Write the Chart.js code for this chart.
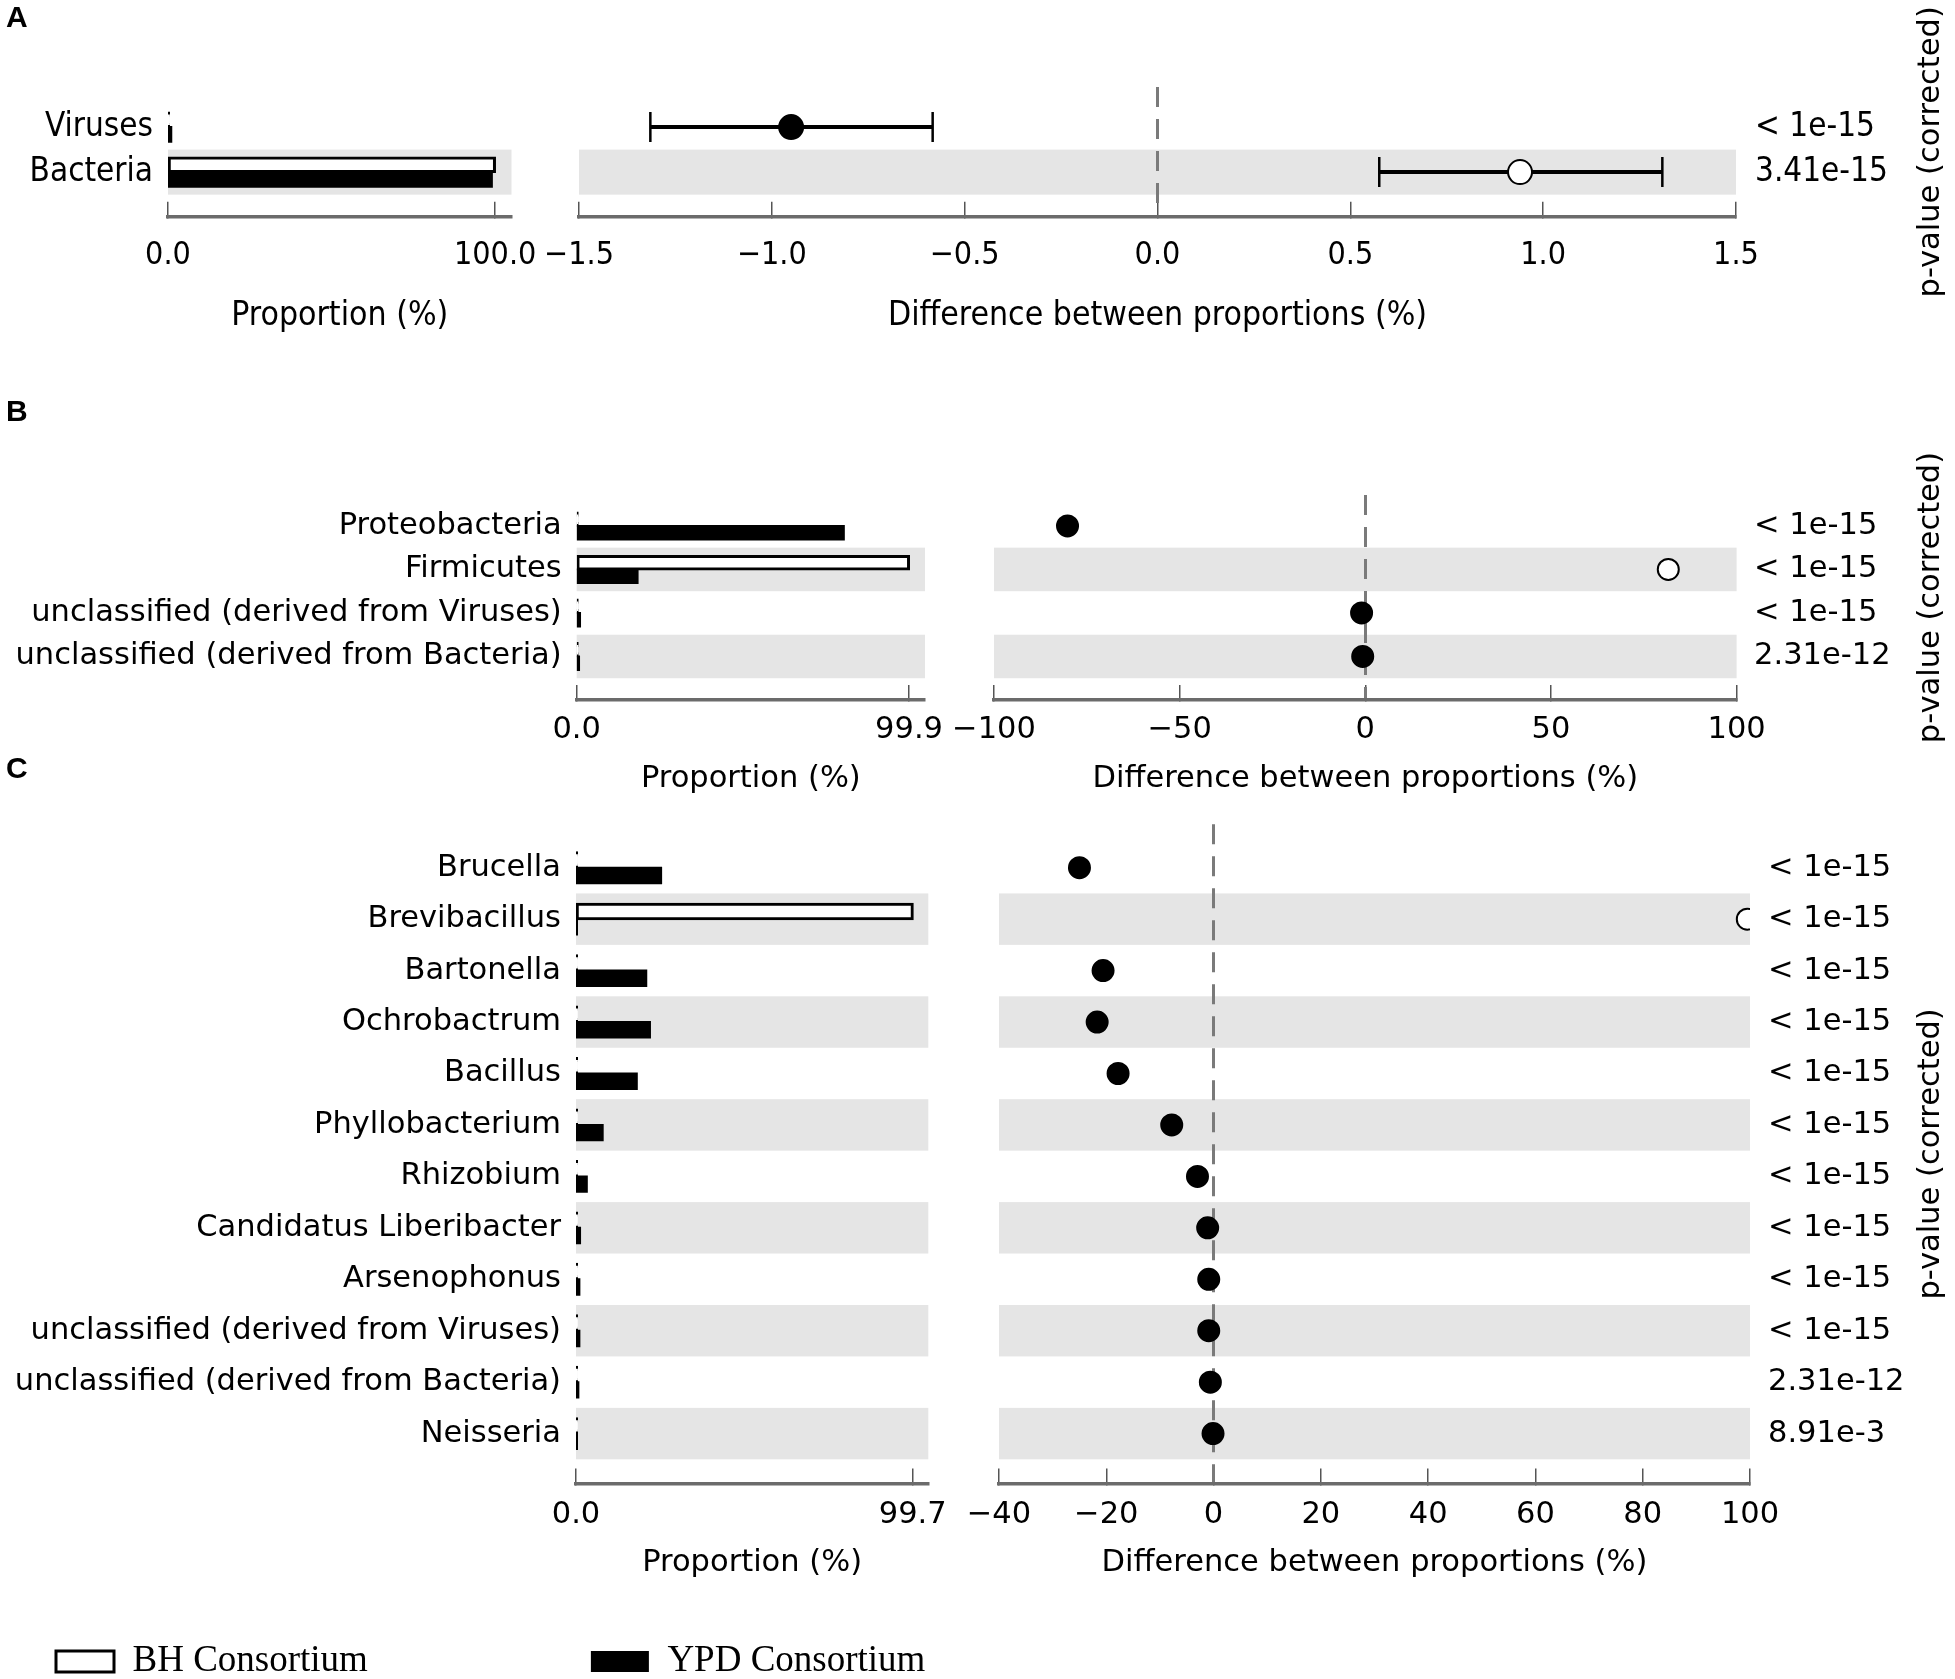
<!DOCTYPE html>
<html>
<head>
<meta charset="utf-8">
<script src="https://cdn.jsdelivr.net/npm/chart.js@4.4.1/dist/chart.umd.min.js"></script>
<style>
html,body{margin:0;padding:0;background:#fff;width:1955px;height:1679px;overflow:hidden;position:relative}
canvas{position:absolute}
</style>
</head>
<body>
<script>
// ------------------------- DATA -------------------------
// Panel A : domain level
const domainTaxa = ['Viruses', 'Bacteria'];
const domainBH = [0.05, 99.95];
const domainYPD = [1.0, 99.0];
const domainDiff = [-0.95, 0.94];
const domainCILow = [-1.315, 0.575];
const domainCIHigh = [-0.583, 1.309];
const domainP = ['< 1e-15', '3.41e-15'];
const domainPropTicks = [0, 100];
const domainPropLabels = ['0.0', '100.0'];
const domainDiffTicks = [-1.5, -1.0, -0.5, 0, 0.5, 1.0, 1.5];
const domainDiffLabels = ['\u22121.5', '\u22121.0', '\u22120.5', '0.0', '0.5', '1.0', '1.5'];

// Panel B : phylum level
const phylumTaxa = ['Proteobacteria', 'Firmicutes', 'unclassified (derived from Viruses)', 'unclassified (derived from Bacteria)'];
const phylumBH = [0.05, 99.9, 0.02, 0.02];
const phylumYPD = [80.3, 18.3, 1.0, 0.7];
const phylumDiff = [-80.2, 81.6, -1.0, -0.7];
const phylumP = ['< 1e-15', '< 1e-15', '< 1e-15', '2.31e-12'];
const phylumPropTicks = [0, 99.9];
const phylumPropLabels = ['0.0', '99.9'];
const phylumDiffTicks = [-100, -50, 0, 50, 100];
const phylumDiffLabels = ['\u2212100', '\u221250', '0', '50', '100'];

// Panel C : genus level
const genusTaxa = ['Brucella', 'Brevibacillus', 'Bartonella', 'Ochrobactrum', 'Bacillus', 'Phyllobacterium',
  'Rhizobium', 'Candidatus Liberibacter', 'Arsenophonus', 'unclassified (derived from Viruses)',
  'unclassified (derived from Bacteria)', 'Neisseria'];
const genusBH = [0.1, 99.7, 0.1, 0.1, 0.1, 0.05, 0.05, 0.02, 0.02, 0.02, 0.02, 0.01];
const genusYPD = [25.2, 0.2, 20.8, 21.9, 18.0, 7.9, 3.2, 1.2, 1.0, 1.0, 0.7, 0.2];
const genusDiff = [-25.0, 99.5, -20.6, -21.7, -17.8, -7.8, -3.0, -1.1, -0.9, -0.9, -0.6, -0.1];
const genusP = ['< 1e-15', '< 1e-15', '< 1e-15', '< 1e-15', '< 1e-15', '< 1e-15', '< 1e-15',
  '< 1e-15', '< 1e-15', '< 1e-15', '2.31e-12', '8.91e-3'];
const genusPropTicks = [0, 99.7];
const genusPropLabels = ['0.0', '99.7'];
const genusDiffTicks = [-40, -20, 0, 20, 40, 60, 80, 100];
const genusDiffLabels = ['\u221240', '\u221220', '0', '20', '40', '60', '80', '100'];

const seriesNames = ['BH Consortium', 'YPD Consortium'];

// ------------------------- LAYOUT / STYLE -------------------------
const SANS = "'DejaVu Sans', sans-serif";
const COND = "'DejaVu Sans Condensed', 'DejaVu Sans', sans-serif";
const BAND = '#e5e5e5';
const LETTER_SIZE = 30;
const PAGE_W = 1955;

const GEOM = {
  A: {letterY: 19, top: 87, bottom: 216.7, lL: 168, lR: 511.5, lMax: 105.0, rL: 579, rR: 1736,
      xMin: -1.5, xMax: 1.5, yMin: -0.89, yMax: 1.99, tickPad: 35, titleY: 315, cp: 0.65, r: 12,
      font: COND, labelSize: 33, tickSize: 32, titleSize: 33.5, pSize: 33, pPad: 19, topPad: 95},
  B: {letterY: 413, top: 495, bottom: 700, lL: 576.7, lR: 925, lMax: 104.7, rL: 994, rR: 1736.6,
      xMin: -100, xMax: 100, yMin: -0.71, yMax: 4.0, tickPad: 26.7, titleY: 778, cp: 0.62, r: 10.5,
      font: SANS, labelSize: 30.5, tickSize: 30.5, titleSize: 30.5, pSize: 30.5, pPad: 17.5, topPad: 60},
  C: {letterY: 770, top: 824.3, bottom: 1483.5, lL: 576, lR: 928.3, lMax: 104.3, rL: 999, rR: 1750,
      xMin: -40, xMax: 100, yMin: -0.844, yMax: 11.97, tickPad: 28.2, titleY: 1562, cp: 0.6, r: 10.5,
      font: SANS, labelSize: 30.5, tickSize: 30.5, titleSize: 30.5, pSize: 30.5, pPad: 18, topPad: 50}
};

Chart.defaults.color = '#000';
Chart.defaults.font.family = SANS;

function makeCanvas(left, top, w, h) {
  const c = document.createElement('canvas');
  c.width = w; c.height = h;
  c.style.left = left + 'px'; c.style.top = top + 'px';
  c.style.width = w + 'px'; c.style.height = h + 'px';
  document.body.appendChild(c);
  return c.getContext('2d');
}

// alternating grey row bands, positioned through the y scale
const bandsPlugin = {
  id: 'rowBands',
  beforeDraw(chart, args, opts) {
    if (!opts || !opts.count) return;
    const {ctx, chartArea: a} = chart;
    const ys = chart.scales.y;
    ctx.save();
    ctx.fillStyle = opts.color;
    for (let i = 1; i < opts.count; i += 2) {
      const p0 = ys.getPixelForValue(i - 0.5), p1 = ys.getPixelForValue(i + 0.5);
      ctx.fillRect(a.left, Math.min(p0, p1), a.right - a.left, Math.abs(p1 - p0));
    }
    ctx.restore();
  }
};

// rotated right-hand title ("p-value (corrected)")
const sideTitlePlugin = {
  id: 'sideTitle',
  afterDraw(chart, args, opts) {
    if (!opts || !opts.text) return;
    const {ctx, chartArea: a} = chart;
    ctx.save();
    ctx.translate(chart.width - opts.fromRight, (a.top + a.bottom) / 2);
    ctx.rotate(-Math.PI / 2);
    ctx.font = opts.size + 'px ' + SANS;
    ctx.fillStyle = '#000';
    ctx.textAlign = 'center';
    ctx.textBaseline = 'middle';
    ctx.fillText(opts.text, 0, 0);
    ctx.restore();
  }
};

function xAxisCommon(g, ticksV, ticksL, title, xH) {
  return {
    type: 'linear', position: 'bottom',
    afterBuildTicks: s => { s.ticks = ticksV.map(v => ({value: v})); },
    afterFit: s => { s.height = xH; },
    ticks: {autoSkip: false, maxRotation: 0, minRotation: 0, padding: g.tickPad, color: '#000',
            font: {family: g.font, size: g.tickSize}, callback: v => ticksL[ticksV.indexOf(v)]},
    grid: {display: true, drawOnChartArea: false, drawTicks: true, tickLength: -15,
           tickColor: '#555', tickWidth: 1.5, lineWidth: 1.5},
    border: {display: true, color: '#6b6b6b', width: 3.5},
    title: {display: true, text: title, padding: 0, color: '#000', font: {family: g.font, size: g.titleSize}}
  };
}

function buildLeft(key, taxa, bh, ypd, ticksV, ticksL, letter) {
  const g = GEOM[key];
  const letterLH = LETTER_SIZE * 1.2;
  const cTop = Math.round(g.letterY - letterLH / 2 - 4);
  const cW = Math.ceil(g.lR + 80);
  const axisBottom = g.titleY + g.titleSize * 0.6;
  const cH = Math.ceil(axisBottom - cTop);
  const xH = cH - (g.bottom - cTop);
  const x = xAxisCommon(g, ticksV, ticksL, 'Proportion (%)', xH);
  x.min = 0; x.max = g.lMax;
  return new Chart(makeCanvas(0, cTop, cW, cH), {
    type: 'bar',
    data: {datasets: [
      {label: seriesNames[0], data: bh.map((v, i) => ({x: v, y: i})), backgroundColor: '#fff',
       borderColor: '#000', borderWidth: 3, borderSkipped: false, minBarLength: 1, inflateAmount: 1,
       categoryPercentage: g.cp, barPercentage: 1},
      {label: seriesNames[1], data: ypd.map((v, i) => ({x: v, y: i})), backgroundColor: '#000',
       borderColor: '#000', borderWidth: 0, minBarLength: 1, inflateAmount: 1,
       categoryPercentage: g.cp, barPercentage: 1}
    ]},
    options: {
      indexAxis: 'y', responsive: false, animation: false, devicePixelRatio: 1, events: [],
      layout: {padding: {left: 6, top: 0, right: cW - g.lR, bottom: 0}},
      scales: {
        x: x,
        y: {type: 'linear', min: g.yMin, max: g.yMax, reverse: true, offset: false, position: 'left',
            afterBuildTicks: s => { s.ticks = taxa.map((_, i) => ({value: i})); },
            afterFit: s => { s.width = g.lL - 6; },
            ticks: {autoSkip: false, padding: 15, color: '#000', font: {family: g.font, size: g.labelSize},
                    callback: v => taxa[v]},
            grid: {display: false, drawTicks: false},
            border: {display: false}}
      },
      plugins: {
        legend: {display: false}, tooltip: {enabled: false},
        title: {display: true, text: letter, align: 'start', color: '#000',
                font: {family: "'Liberation Sans', Arial, sans-serif", size: LETTER_SIZE, weight: 'bold'},
                padding: {top: 4, bottom: g.top - cTop - 4 - letterLH}},
        rowBands: {count: taxa.length, color: BAND}
      }
    },
    plugins: [bandsPlugin]
  });
}

function buildRight(key, taxa, diff, pvals, ticksV, ticksL, ciLow, ciHigh) {
  const g = GEOM[key];
  const cL = Math.round(g.rL - 90);
  const cTop = Math.round(g.top - g.topPad);
  const cW = PAGE_W - cL;
  const axisBottom = g.titleY + g.titleSize * 0.6;
  const cH = Math.ceil(axisBottom - cTop);
  const xH = cH - (g.bottom - cTop);
  const datasets = [{
    type: 'scatter', xAxisID: 'x', yAxisID: 'y', order: 0, clip: 0,
    data: diff.map((d, i) => ({x: d, y: i})),
    pointRadius: g.r, pointBorderWidth: 2, pointBorderColor: '#000',
    pointBackgroundColor: c => (c.raw && c.raw.x < 0 ? '#000' : '#fff')
  }];
  if (ciLow) {
    ciLow.forEach((lo, i) => datasets.push({
      type: 'line', xAxisID: 'x', yAxisID: 'y', order: 1, clip: 0,
      data: [{x: lo, y: i}, {x: ciHigh[i], y: i}],
      borderColor: '#000', borderWidth: 4, pointStyle: 'line', pointRotation: 90,
      pointRadius: 15, pointBorderWidth: 2.5, pointBorderColor: '#000'
    }));
  }
  const x = xAxisCommon(g, ticksV, ticksL, 'Difference between proportions (%)', xH);
  x.min = g.xMin; x.max = g.xMax;
  return new Chart(makeCanvas(cL, cTop, cW, cH), {
    type: 'scatter',
    data: {datasets},
    options: {
      responsive: false, animation: false, devicePixelRatio: 1, events: [],
      layout: {padding: {left: g.rL - cL, top: g.top - cTop, right: 0, bottom: 0}},
      scales: {
        x: x,
        xz: {type: 'linear', axis: 'x', min: g.xMin, max: g.xMax, position: 'bottom', display: true,
             afterBuildTicks: s => { s.ticks = [{value: 0}]; },
             afterFit: s => { s.height = 0; },
             ticks: {display: false},
             grid: {display: true, drawOnChartArea: true, drawTicks: false, lineWidth: 3,
                    color: c => (c.tick && c.tick.value === 0 ? '#7a7a7a' : 'rgba(0,0,0,0)')},
             border: {display: false, dash: [20, 12]}},
        y: {type: 'linear', min: g.yMin, max: g.yMax, reverse: true, position: 'right',
            afterBuildTicks: s => { s.ticks = taxa.map((_, i) => ({value: i})); },
            afterFit: s => { s.width = PAGE_W - g.rR; },
            ticks: {autoSkip: false, padding: g.pPad, color: '#000', font: {family: g.font, size: g.pSize},
                    callback: v => pvals[v]},
            grid: {display: false, drawTicks: false},
            border: {display: false}}
      },
      plugins: {
        legend: {display: false}, tooltip: {enabled: false},
        rowBands: {count: taxa.length, color: BAND},
        sideTitle: {text: 'p-value (corrected)', size: 30.5, fromRight: 24}
      }
    },
    plugins: [bandsPlugin, sideTitlePlugin]
  });
}

buildLeft('A', domainTaxa, domainBH, domainYPD, domainPropTicks, domainPropLabels, 'A');
buildRight('A', domainTaxa, domainDiff, domainP, domainDiffTicks, domainDiffLabels, domainCILow, domainCIHigh);
buildLeft('B', phylumTaxa, phylumBH, phylumYPD, phylumPropTicks, phylumPropLabels, 'B');
buildRight('B', phylumTaxa, phylumDiff, phylumP, phylumDiffTicks, phylumDiffLabels);
buildLeft('C', genusTaxa, genusBH, genusYPD, genusPropTicks, genusPropLabels, 'C');
buildRight('C', genusTaxa, genusDiff, genusP, genusDiffTicks, genusDiffLabels);

// legend
new Chart(makeCanvas(-167, 1420, 1500, 520), {
  type: 'bar',
  data: {labels: [], datasets: [
    {label: seriesNames[0], data: [], backgroundColor: '#fff', borderColor: '#000', borderWidth: 3},
    {label: seriesNames[1], data: [], backgroundColor: '#000', borderColor: '#000', borderWidth: 0}
  ]},
  options: {
    responsive: false, animation: false, devicePixelRatio: 1, events: [],
    layout: {padding: 0},
    scales: {x: {display: false}, y: {display: false}},
    plugins: {
      tooltip: {enabled: false},
      legend: {display: true, position: 'top', align: 'start',
               labels: {boxWidth: 58, boxHeight: 21, padding: 223, color: '#000',
                        font: {family: "'Liberation Serif', 'Times New Roman', serif", size: 37}}}
    }
  }
});
</script>
</body>
</html>
